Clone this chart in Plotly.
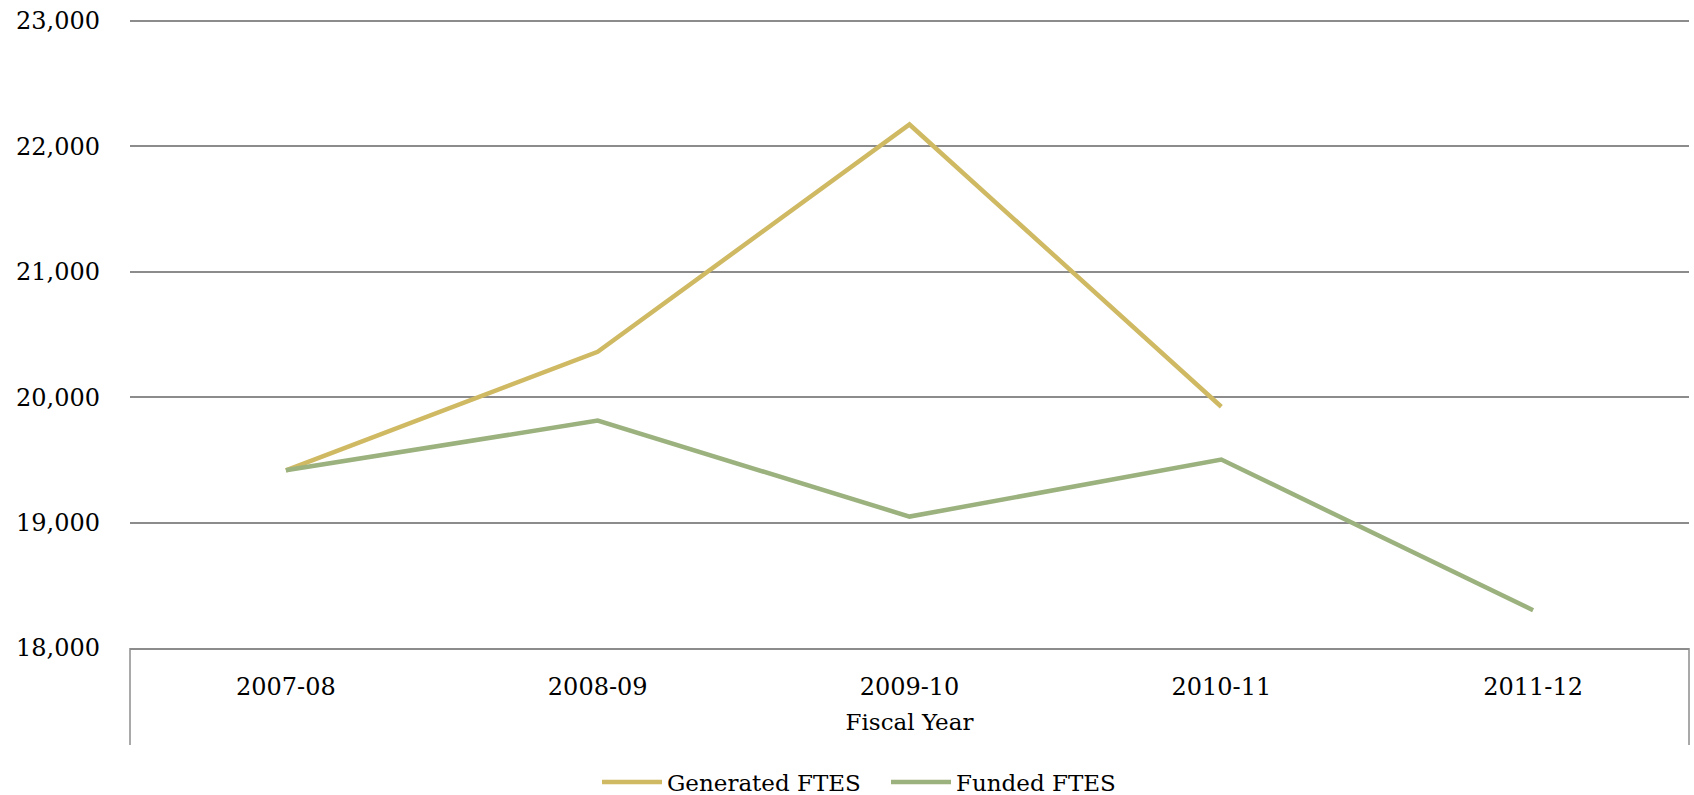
import plotly.graph_objects as go

years = ["2007-08", "2008-09", "2009-10", "2010-11", "2011-12"]
generated_ftes = [19417, 20362, 22175, 19924, None]
funded_ftes = [19417, 19813, 19048, 19503, 18301]
y_ticks = [18000, 19000, 20000, 21000, 22000, 23000]

FONT = "DejaVu Serif"
W, H = 1694, 795
ML, MR, MT, MB = 130, 5, 19, 147
plot_h = H - MT - MB
plot_w = W - ML - MR

fig = go.Figure()
fig.add_trace(go.Scatter(x=years, y=generated_ftes, mode="lines", name="Generated FTES",
                         line=dict(color="#CFB963", width=4.5), connectgaps=False))
fig.add_trace(go.Scatter(x=years, y=funded_ftes, mode="lines", name="Funded FTES",
                         line=dict(color="#9BB17E", width=4.5)))

ext = (745 - 648) / plot_h
for xp in (0, 1):
    fig.add_shape(type="line", xref="paper", yref="paper", x0=xp, x1=xp, y0=0, y1=-ext,
                  line=dict(color="#8c8c8c", width=1.5))

fig.update_layout(
    width=W, height=H,
    margin=dict(l=ML, r=MR, t=MT, b=MB, autoexpand=False),
    paper_bgcolor="white", plot_bgcolor="white",
    font=dict(family=FONT, size=23, color="black"),
    showlegend=True,
    legend=dict(orientation="h", x=(597 - ML) / plot_w, xanchor="left",
                y=-(782 - 648) / plot_h, yanchor="middle",
                itemwidth=60, entrywidth=214, entrywidthmode="pixels",
                font=dict(size=23), traceorder="normal"),
    xaxis=dict(type="category", range=[-0.5, 4.5], showgrid=False, showline=True,
               linecolor="#8c8c8c", linewidth=1.5, ticks="", ticklabelstandoff=16,
               tickfont=dict(size=24), automargin=False,
               title=dict(text="Fiscal Year", font=dict(size=23), standoff=14)),
    yaxis=dict(range=[18000, 23016], tickvals=y_ticks, tickformat=",d",
               showgrid=True, gridcolor="#8c8c8c", gridwidth=1.5, zeroline=False,
               showline=False, ticks="", ticklabelstandoff=29, tickfont=dict(size=24),
               automargin=False, ticklabeloverflow="allow"),
)

fig.write_html(
    "out.html",
    config={"displayModeBar": False},
    post_script="document.body.style.margin='0';document.body.style.overflow='hidden';",
)
